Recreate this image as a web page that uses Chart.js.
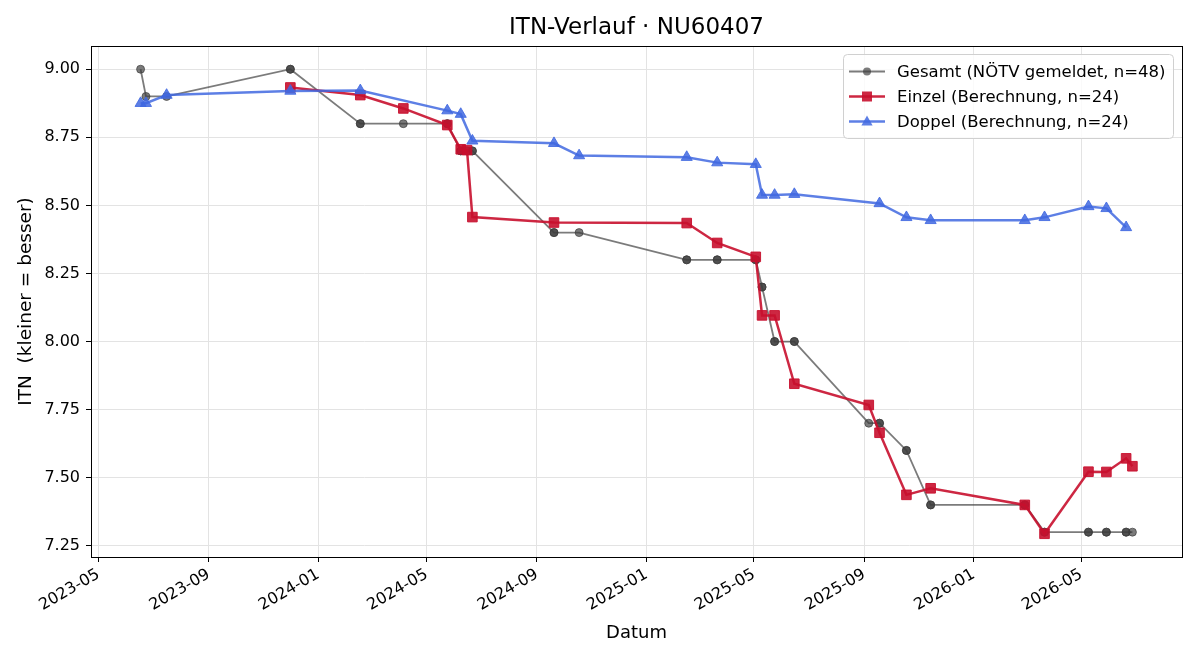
<!DOCTYPE html>
<html>
<head>
<meta charset="utf-8">
<script src="https://cdn.jsdelivr.net/npm/chart.js@4/dist/chart.umd.min.js"></script>
<style>
    html, body { margin: 0; padding: 0; background: #fff; }
    #wrap { width: 1200px; height: 660px; position: relative; }
</style>
</head>
<body>
<div id="wrap"><canvas id="itnChart"></canvas></div>
<script>
// Data
const gesamtDates = ['2023-06-17', '2023-06-23', '2023-07-16', '2023-12-01', '2023-12-01', '2024-02-17', '2024-02-17', '2024-04-05',
    '2024-05-24', '2024-05-24', '2024-06-08', '2024-06-08', '2024-06-15', '2024-06-21', '2024-06-21', '2024-09-20', '2024-09-20',
    '2024-10-18', '2025-02-15', '2025-02-15', '2025-03-21', '2025-03-21', '2025-05-03', '2025-05-03', '2025-05-10', '2025-05-10',
    '2025-05-24', '2025-05-24', '2025-06-15', '2025-06-15', '2025-09-06', '2025-09-18', '2025-09-18', '2025-10-18', '2025-10-18',
    '2025-11-14', '2025-11-14', '2026-02-27', '2026-02-27', '2026-03-21', '2026-03-21', '2026-05-09', '2026-05-09', '2026-05-29',
    '2026-05-29', '2026-06-20', '2026-06-20', '2026-06-27'];
const gesamtValues = [9.0, 8.9, 8.9, 9.0, 9.0, 8.8, 8.8, 8.8, 8.8, 8.8, 8.7, 8.7, 8.7, 8.7, 8.7, 8.4, 8.4, 8.4, 8.3, 8.3, 8.3, 8.3, 8.3, 8.3,
    8.2, 8.2, 8.0, 8.0, 8.0, 8.0, 7.7, 7.7, 7.7, 7.6, 7.6, 7.4, 7.4, 7.4, 7.4, 7.3, 7.3, 7.3, 7.3, 7.3, 7.3, 7.3, 7.3, 7.3];

const einzelDates = ['2023-12-01', '2024-02-17', '2024-04-05', '2024-05-24', '2024-06-08', '2024-06-15', '2024-06-21', '2024-09-20',
    '2025-02-15', '2025-03-21', '2025-05-03', '2025-05-10', '2025-05-24', '2025-06-15', '2025-09-06', '2025-09-18', '2025-10-18',
    '2025-11-14', '2026-02-27', '2026-03-21', '2026-05-09', '2026-05-29', '2026-06-20', '2026-06-27'];
const einzelValues = [8.933, 8.905, 8.856, 8.795, 8.706, 8.703, 8.457, 8.437, 8.435, 8.362, 8.311, 8.096, 8.096, 7.845, 7.767, 7.665,
    7.437, 7.461, 7.400, 7.294, 7.522, 7.521, 7.571, 7.542];

const doppelDates = ['2023-06-17', '2023-06-23', '2023-07-16', '2023-12-01', '2024-02-17', '2024-05-24', '2024-06-08', '2024-06-21',
    '2024-09-20', '2024-10-18', '2025-02-15', '2025-03-21', '2025-05-03', '2025-05-10', '2025-05-24', '2025-06-15', '2025-09-18',
    '2025-10-18', '2025-11-14', '2026-02-27', '2026-03-21', '2026-05-09', '2026-05-29', '2026-06-20'];
const doppelValues = [8.875, 8.875, 8.905, 8.920, 8.922, 8.848, 8.835, 8.737, 8.728, 8.683, 8.677, 8.657, 8.651, 8.538, 8.538, 8.541,
    8.507, 8.456, 8.445, 8.445, 8.456, 8.496, 8.489, 8.419];

const xTickLabels = ['2023-05', '2023-09', '2024-01', '2024-05', '2024-09', '2025-01', '2025-05', '2025-09', '2026-01', '2026-05'];
const yTickValues = [7.25, 7.5, 7.75, 8.0, 8.25, 8.5, 8.75, 9.0];

// Helpers
const dayOf = (s) => {
    const [y, m, d] = s.split('-').map(Number);
    return Date.UTC(y, m - 1, d || 1) / 86400000;
};
const toPoints = (dates, values) => dates.map((d, i) => ({ x: dayOf(d), y: values[i] }));

const allDays = gesamtDates.map(dayOf);
const xMinData = Math.min(...allDays), xMaxData = Math.max(...allDays);
const xPad = (xMaxData - xMinData) * 0.05;
const allVals = [...gesamtValues, ...einzelValues, ...doppelValues];
const yMinData = Math.min(...allVals), yMaxData = Math.max(...allVals);
const yPad = (yMaxData - yMinData) * 0.05;

const GRAY = 'rgba(60, 60, 60, 0.68)';
const RED = 'rgba(200, 16, 46, 0.9)';
const BLUE = 'rgba(65, 105, 225, 0.85)';

const legendItems = [
    { label: 'Gesamt (NÖTV gemeldet, n=48)', color: GRAY, style: 'circle', width: 1.8 },
    { label: 'Einzel (Berechnung, n=24)', color: RED, style: 'rect', width: 2.5 },
    { label: 'Doppel (Berechnung, n=24)', color: BLUE, style: 'triangle', width: 2.5 }
];

function drawMarker(ctx, style, x, y) {
    ctx.beginPath();
    if (style === 'circle') {
        ctx.arc(x, y, 4, 0, Math.PI * 2);
    } else if (style === 'rect') {
        ctx.rect(x - 5, y - 5, 10, 10);
    } else {
        ctx.moveTo(x, y - 6);
        ctx.lineTo(x + 5.6, y + 4);
        ctx.lineTo(x - 5.6, y + 4);
        ctx.closePath();
    }
    ctx.fill();
}

// Frame + legend like the original, title centred over the plot area
const framePlugin = {
    id: 'frameLegend',
    afterLayout(chart) {
        if (chart.titleBlock) {
            chart.titleBlock.left = chart.chartArea.left;
            chart.titleBlock.right = chart.chartArea.right;
            chart.titleBlock.width = chart.chartArea.right - chart.chartArea.left;
        }
    },
    afterDraw(chart) {
        const { ctx, chartArea: a } = chart;
        ctx.save();
        ctx.strokeStyle = '#000';
        ctx.lineWidth = 1;
        ctx.strokeRect(Math.round(a.left) + 0.5, Math.round(a.top) + 0.5, Math.round(a.right - a.left), Math.round(a.bottom - a.top));

        // legend box
        const boxW = 330, boxH = 84;
        const bx = a.right - 9 - boxW, by = a.top + 8;
        ctx.beginPath();
        ctx.roundRect(bx + 0.5, by + 0.5, boxW, boxH, 4);
        ctx.fillStyle = 'rgba(255,255,255,0.8)';
        ctx.fill();
        ctx.strokeStyle = '#d0d0d0';
        ctx.stroke();

        ctx.font = '16.5px "DejaVu Sans"';
        ctx.textBaseline = 'middle';
        legendItems.forEach((item, i) => {
            const cy = by + 17.5 + i * 25;
            ctx.strokeStyle = item.color;
            ctx.lineWidth = item.width;
            ctx.beginPath();
            ctx.moveTo(bx + 6, cy);
            ctx.lineTo(bx + 42, cy);
            ctx.stroke();
            ctx.fillStyle = item.color;
            drawMarker(ctx, item.style, bx + 24, cy);
            ctx.fillStyle = '#000';
            ctx.fillText(item.label, bx + 54, cy + 1);
        });
        ctx.restore();
    }
};

Chart.defaults.font.family = '"DejaVu Sans", sans-serif';
Chart.defaults.color = '#000';

const ctx = document.getElementById('itnChart').getContext('2d');
new Chart(ctx, {
    type: 'line',
    data: {
        datasets: [
            {
                label: legendItems[2].label,
                data: toPoints(doppelDates, doppelValues),
                borderColor: BLUE,
                backgroundColor: BLUE,
                borderWidth: 2.5,
                pointStyle: 'triangle',
                pointRadius: 6.4,
                pointBorderWidth: 1,
                order: 0
            },
            {
                label: legendItems[1].label,
                data: toPoints(einzelDates, einzelValues),
                borderColor: RED,
                backgroundColor: RED,
                borderWidth: 2.5,
                pointStyle: 'rect',
                pointRadius: 6.8,
                pointBorderWidth: 1,
                order: 1
            },
            {
                label: legendItems[0].label,
                data: toPoints(gesamtDates, gesamtValues),
                borderColor: GRAY,
                backgroundColor: GRAY,
                borderWidth: 1.8,
                pointStyle: 'circle',
                pointRadius: 4,
                pointBorderWidth: 1,
                order: 2
            }
        ]
    },
    options: {
        responsive: true,
        maintainAspectRatio: false,
        animation: false,
        layout: { padding: { top: 0, left: 0, right: 18, bottom: 0 } },
        elements: { line: { tension: 0 } },
        plugins: {
            legend: { display: false },
            tooltip: { enabled: false },
            title: {
                display: true,
                text: 'ITN-Verlauf · NU60407',
                font: { size: 23, weight: 'normal' },
                color: '#000',
                padding: { top: 14, bottom: 4.4 }
            }
        },
        scales: {
            x: {
                type: 'linear',
                min: xMinData - xPad,
                max: xMaxData + xPad,
                afterBuildTicks: (scale) => {
                    scale.ticks = xTickLabels.map(l => ({ value: dayOf(l) }));
                },
                afterFit: (scale) => { scale.height = 103; },
                ticks: {
                    autoSkip: false,
                    minRotation: 30,
                    maxRotation: 30,
                    padding: 3,
                    font: { size: 16 },
                    callback: (value, index) => xTickLabels[index]
                },
                grid: { color: '#e3e3e3', tickColor: '#000', tickLength: 5 },
                border: { color: '#000' },
                title: {
                    display: true,
                    text: 'Datum',
                    font: { size: 18 },
                    padding: { top: 4, bottom: 16 }
                }
            },
            y: {
                type: 'linear',
                min: yMinData - yPad,
                max: yMaxData + yPad,
                afterBuildTicks: (scale) => {
                    scale.ticks = yTickValues.map(v => ({ value: v }));
                },
                afterFit: (scale) => { scale.width = 91; },
                ticks: {
                    padding: 6,
                    font: { size: 16 },
                    callback: (value) => Number(value).toFixed(2)
                },
                grid: { color: '#e3e3e3', tickColor: '#000', tickLength: 5 },
                border: { color: '#000' },
                title: {
                    display: true,
                    text: 'ITN  (kleiner = besser)',
                    font: { size: 18.5 },
                    padding: { top: 15, bottom: 4 }
                }
            }
        }
    },
    plugins: [framePlugin]
});
</script>
</body>
</html>
